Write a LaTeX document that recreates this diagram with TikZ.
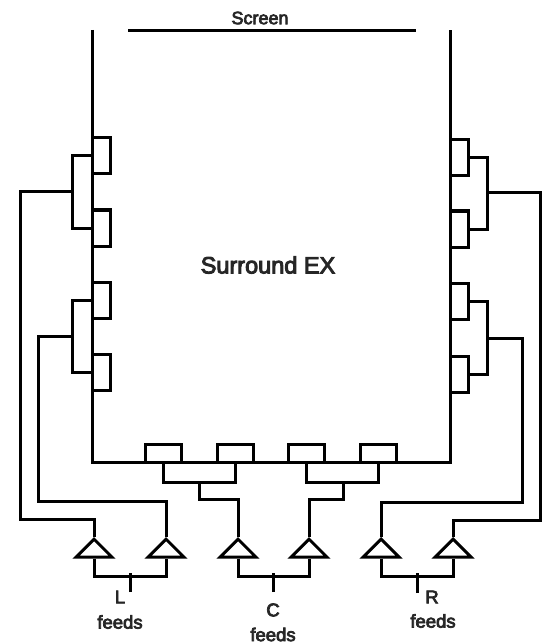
\documentclass[tikz,border=0pt]{standalone}
\usepackage{fontspec}
\setmainfont[FakeBold=4]{Liberation Sans}
\usetikzlibrary{positioning,shapes.geometric}

\begin{document}
\begin{tikzpicture}[
		x=1pt, y=-1pt,
		line width=3pt,
		font=\fontsize{18.5}{22}\selectfont,
		spkv/.style={draw, minimum width=18pt, minimum height=36pt, inner sep=0pt},
		spkh/.style={draw, minimum width=36pt, minimum height=18pt, inner sep=0pt},
		amp/.style={draw, isosceles triangle, isosceles triangle apex angle=90,
				isosceles triangle stretches, shape border rotate=90,
				minimum width=36pt, minimum height=18pt, inner sep=0pt, anchor=apex},
		lbl/.style={inner sep=0pt, text=black!85}
		]
		\useasboundingbox (0,0) rectangle (546,644);
		% room outline + screen
		\coordinate (wallNW) at (92,30);
		\coordinate (wallSW) at (92,462.5);
		\coordinate (wallSE) at (450,462.5);
		\coordinate (wallNE) at (450,30);
		\coordinate (scrA) at (128,31);
		\coordinate (scrB) at (416,31);
		\draw (wallNW) -- (wallSW) -- (wallSE) -- (wallNE);
		\draw (scrA) -- (scrB);
		\node[lbl, font=\fontsize{18}{22}\selectfont] (screen) at (260,18) {Screen};
		\node[lbl, font=\fontsize{23.5}{28}\selectfont] (title) at (268,265) {Surround EX};
		% left wall speakers
		\node[spkv] (spkLa) at (101,156) {};
		\node[spkv] (spkLb) at (101,228) {};
		\node[spkv] (spkLc) at (101,300) {};
		\node[spkv] (spkLd) at (101,372) {};
		% right wall speakers
		\node[spkv] (spkRa) at (459,157.5) {};
		\node[spkv] (spkRb) at (459,229) {};
		\node[spkv] (spkRc) at (459,301.5) {};
		\node[spkv] (spkRd) at (459,374) {};
		% rear wall speakers
		\node[spkh] (spkCa) at (163,453.5) {};
		\node[spkh] (spkCb) at (235,453.5) {};
		\node[spkh] (spkCc) at (306.5,453.5) {};
		\node[spkh] (spkCd) at (378.5,453.5) {};
		% amplifiers
		\node[amp] (ampLa) at (94,537) {};
		\node[amp] (ampLb) at (166,537) {};
		\node[amp] (ampCa) at (238,537) {};
		\node[amp] (ampCb) at (309,537) {};
		\node[amp] (ampRa) at (381,537) {};
		\node[amp] (ampRb) at (453,537) {};
		% speaker pairs
		\draw (spkLa.west) -- ++(-18,0) |- (spkLb.west);
		\draw (spkLc.west) -- ++(-18,0) |- (spkLd.west);
		\draw (spkRa.east) -- ++(18,0) |- (spkRb.east);
		\draw (spkRc.east) -- ++(18,0) |- (spkRd.east);
		\draw (spkCa.south) -- ++(0,18) -| (spkCb.south);
		\draw (spkCc.south) -- ++(0,18) -| (spkCd.south);
		% junctions on the pairs
		\coordinate (tapLa) at (74,192);
		\coordinate (tapLb) at (74,336);
		\coordinate (tapRa) at (487,193);
		\coordinate (tapRb) at (487,338);
		\coordinate (tapCa) at (199,481);
		\coordinate (tapCb) at (343,481);
		% runs out to the amplifiers
		\coordinate (railLa) at (20,519);
		\coordinate (railLb) at (38,501);
		\coordinate (railRa) at (522,502);
		\coordinate (railRb) at (540,520);
		\coordinate (railCa) at (238,499);
		\coordinate (railCb) at (309,499);
		\draw (tapLa) -| (railLa) -| (ampLa.apex);
		\draw (tapLb) -| (railLb) -| (ampLb.apex);
		\draw (tapRa) -| (railRb) -| (ampRb.apex);
		\draw (tapRb) -| (railRa) -| (ampRa.apex);
		\draw (tapCa) |- (railCa) -- (ampCa.apex);
		\draw (tapCb) |- (railCb) -- (ampCb.apex);
		% feeds
		\coordinate (stemL) at (130,592);
		\coordinate (stemC) at (273,592);
		\coordinate (stemR) at (417,593);
		\draw (ampLa.south) -- ++(0,18) -| (ampLb.south);
		\draw (ampCa.south) -- ++(0,18) -| (ampCb.south);
		\draw (ampRa.south) -- ++(0,18) -| (ampRb.south);
		\draw (stemL) -- (stemL |- 0,573);
		\draw (stemC) -- (stemC |- 0,573);
		\draw (stemR) -- (stemR |- 0,573);
		% labels
		\node[lbl] (lblL) at (120,597) {L};
		\node[lbl] (feedL) at (120,622) {feeds};
		\node[lbl] (lblC) at (273,610) {C};
		\node[lbl] (feedC) at (273,634.5) {feeds};
		\node[lbl] (lblR) at (432,597) {R};
		\node[lbl] (feedR) at (433,621) {feeds};
	\end{tikzpicture}
\end{document}
